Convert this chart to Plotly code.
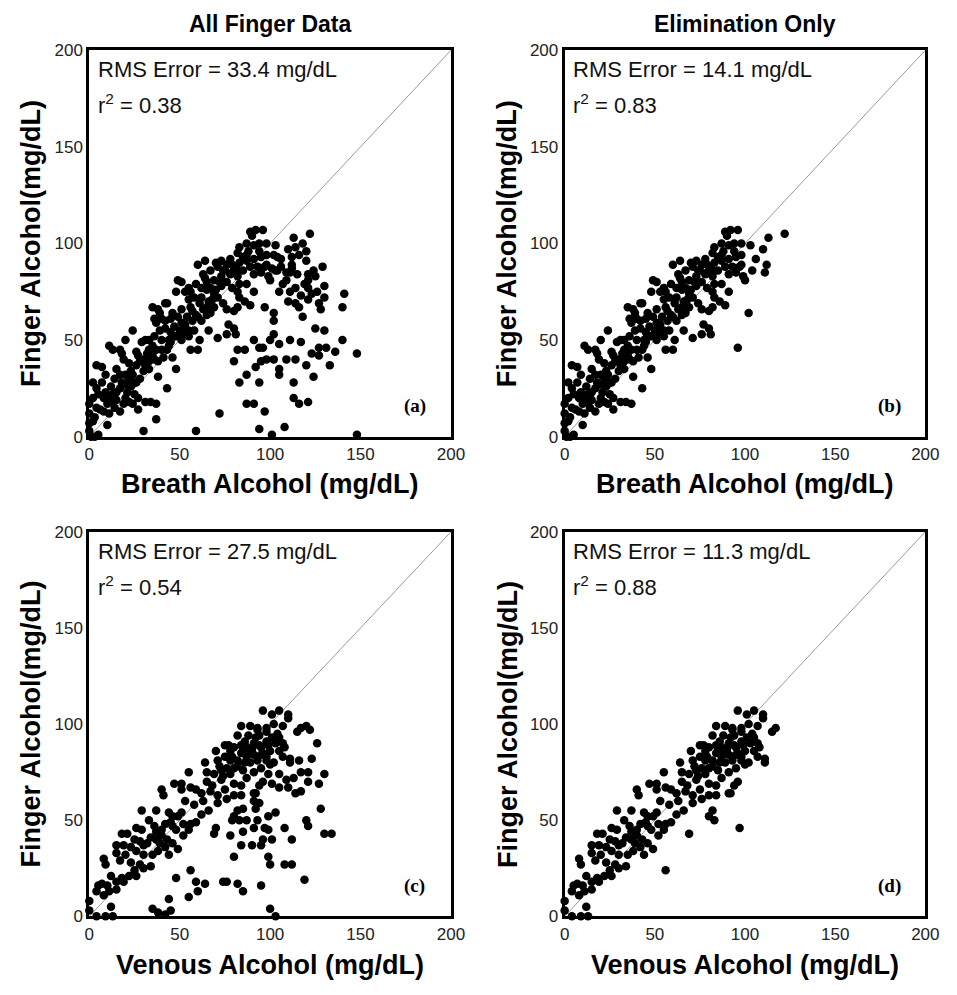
import plotly.graph_objects as go

# ---------------- data ----------------
# Breath vs finger, elimination phase (panels a and b)
breath_elim = [
    (89,106),(92,107),(96,107),(90,104),(87,100),(91,99),(94,100),(98,100),(103,99),(113,103),(122,105),
    (110,97),(106,92),(112,89),(111,85),(104,86),(99,83),(100,81),(97,88),(102,64),(96,46),
    (82,95),(98,94),(95,93),(91,92),(87,91),(83,90),(80,88),(76,89),(73,91),(71,88),(74,86),(78,84),
    (82,83),(85,86),(89,88),(93,88),(95,85),(98,89),(87,79),(91,75),(83,72),(86,70),(89,68),(82,67),
    (80,65),(76,66),(74,69),(71,72),(69,74),(67,77),(65,80),(64,82),(60,89),(64,91),(70,90),(67,86),
    (63,84),(59,79),(56,75),(55,71),(56,67),(59,63),(61,69),(65,67),(67,64),(69,67),(62,72),(51,80),
    (48,75),(49,81),(42,69),(39,64),(36,61),(37,59),(42,60),(45,61),(46,64),(49,62),(51,66),(54,62),
    (51,59),(47,57),(45,54),(42,56),(39,55),(36,52),(35,47),(33,45),(31,50),(30,40),(27,42),(24,55),
    (20,50),(26,44),(22,38),(19,40),(17,45),(13,45),(11,47),(15,35),(17,32),(20,32),(23,34),(26,37),
    (28,39),(31,37),(33,39),(35,42),(37,45),(40,45),(43,45),(41,41),(38,39),(46,41),(48,35),(38,31),
    (43,25),(26,28),(23,26),(21,23),(17,25),(15,23),(14,30),(9,32),(7,36),(4,37),(2,28),(2,20),(5,22),
    (8,20),(10,17),(12,18),(14,15),(17,13),(19,17),(22,18),(25,22),(27,14),(31,18),(34,18),(37,17),
    (0,17),(0,12),(2,8),(0,3),(5,1),(10,6),(0,7),(1,0),(3,0),(51,50),(56,45),(60,45),(61,50),(66,55),
    (71,51),(77,58),(80,56),(81,53),(76,53),(35,67),(38,66),(43,69),(40,61),(53,75),(55,77),(58,72),
    (62,77),(68,71),(73,78),(76,80),(79,77),(82,75),(83,79),(79,85),(73,83),(69,81),(65,76),(53,56),
    (55,55),(57,60),(55,52),(29,49),(33,50),(36,40),(45,49),(40,50),(32,43),(18,43),(24,32),(18,28),
    (12,26),(9,23),(7,28),(4,25),(4,15),(8,13),(11,12),(20,20),(24,17),(15,19),(27,20),(83,98),(87,94),
    (94,96),(82,86),(79,89),(91,84),
    (44,50),(47,52),(50,55),(53,58),(57,65),(60,62),(63,66),(66,70),(70,76),(72,80),(75,86),(78,92),
    (85,93),(88,96),(58,55),(62,60),(65,63),(30,34),(33,35),(28,30),(25,28),(22,30),(20,27),(13,22),
    (10,20),(6,14),(3,10),(44,47),(48,52),(52,53),
]
# Breath vs finger, absorption phase (only in panel a)
breath_abs = [
    (114,98),(118,100),(116,94),(120,91),(112,93),(120,96),(102,94),(104,93),(101,87),(103,86),(106,88),
    (109,85),(112,87),(115,84),(121,84),(125,83),(129,88),(130,78),(126,75),(123,74),(121,71),(117,73),
    (114,69),(110,70),(107,79),(111,75),(105,75),(109,81),(114,77),(119,79),(121,81),(121,77),(124,86),
    (102,60),(97,67),(82,45),(86,45),(80,39),(91,50),(94,46),(100,50),(102,53),(105,48),(111,50),
    (109,40),(105,35),(102,40),(98,40),(95,39),(92,36),(87,32),(83,28),(94,28),(105,32),(114,40),
    (113,28),(113,20),(116,17),(121,18),(124,31),(120,37),(127,42),(127,46),(131,46),(136,44),(133,37),
    (140,50),(130,55),(125,56),(128,66),(127,69),(130,72),(140,67),(141,74),(148,43),(87,17),(91,17),
    (97,13),(72,12),(94,4),(101,1),(108,5),(59,3),(30,3),(148,1),(123,43),(117,49),(118,62),(116,67),
    (37,9),
]
# Venous vs finger, elimination phase (panels c and d)
venous_elim = [
    (96,107),(101,105),(105,107),(110,105),(110,103),(107,99),(102,100),(98,98),(93,97),(115,96),(117,98),
    (105,93),(103,91),(108,88),(99,89),(95,88),(96,85),(98,83),(100,79),(111,82),(111,80),(96,70),(94,68),
    (92,64),(97,46),(84,99),(89,99),(93,98),(75,89),(77,89),(70,86),(80,88),(84,89),(87,88),(91,90),
    (94,89),(98,91),(101,93),(104,95),(107,90),(105,86),(100,86),(95,84),(91,84),(87,83),(82,81),(78,81),
    (75,83),(71,81),(76,77),(64,80),(55,75),(65,75),(69,74),(73,76),(80,77),(85,76),(87,72),(91,75),
    (95,77),(51,66),(40,66),(41,63),(47,69),(51,69),(56,67),(59,66),(62,64),(67,65),(71,63),(75,66),
    (76,61),(71,59),(66,55),(62,53),(59,49),(56,48),(55,45),(52,48),(49,52),(51,54),(46,52),(45,49),
    (44,54),(42,48),(46,47),(40,45),(37,44),(34,41),(37,40),(39,38),(43,40),(46,38),(42,36),(49,35),
    (44,32),(38,34),(34,26),(35,32),(29,55),(37,55),(33,50),(29,45),(26,46),(18,43),(21,43),(25,40),
    (28,39),(30,37),(32,38),(26,34),(23,36),(19,37),(15,37),(15,33),(20,32),(23,28),(28,27),(30,32),
    (30,25),(25,24),(22,21),(18,20),(15,18),(10,16),(7,17),(5,16),(4,13),(8,11),(11,13),(15,14),(19,18),
    (26,21),(12,21),(8,30),(9,27),(17,29),(78,86),(84,85),(89,80),(93,81),(98,81),(102,80),(98,96),
    (94,94),(88,94),(82,94),(103,90),(107,83),(84,63),(80,63),(80,69),(84,68),(73,71),(65,70),(82,55),
    (80,52),(83,50),(69,43),(56,24),(91,64),(12,5),(9,0),(13,0),(0,3),(0,8),(4,0),
    (72,78),(74,73),(78,74),(82,78),(86,80),(88,86),(90,87),(92,93),(86,91),(79,83),(68,68),(63,60),
    (58,58),(53,60),(48,45),(52,42),(36,47),(40,42),
]
# Venous vs finger, absorption phase (only in panel c)
venous_abs = [
    (120,99),(122,97),(126,90),(116,81),(123,82),(130,74),(127,69),(121,70),(121,75),(117,75),(117,65),
    (114,64),(113,72),(109,71),(110,67),(105,74),(105,67),(101,69),(99,74),(94,59),(92,56),(85,56),
    (91,60),(79,50),(87,50),(93,50),(99,52),(103,54),(108,46),(99,45),(91,46),(85,44),(78,42),(84,37),
    (90,37),(95,37),(96,40),(101,40),(112,40),(120,50),(121,47),(128,56),(130,43),(134,43),(99,31),
    (100,27),(108,27),(112,27),(119,19),(80,31),(95,16),(85,13),(82,17),(76,18),(74,18),(64,17),(59,18),
    (60,13),(55,10),(44,9),(45,3),(42,1),(38,2),(35,4),(100,4),(103,0),(48,20),(70,46),
]

panel_titles = ["All Finger Data", "Elimination Only"]
x_titles = ["Breath Alcohol (mg/dL)", "Breath Alcohol (mg/dL)",
            "Venous Alcohol (mg/dL)", "Venous Alcohol (mg/dL)"]
y_title = "Finger Alcohol(mg/dL)"
rms_text = ["33.4", "14.1", "27.5", "11.3"]
r2_text = ["0.38", "0.83", "0.54", "0.88"]
panel_labels = ["(a)", "(b)", "(c)", "(d)"]
tick_vals = [0, 50, 100, 150, 200]
tick_text = ["0", "50", "100", "150", "200"]

# ---------------- figure ----------------
W, H = 957, 995
fig = go.Figure()

def px_x(p):
    return p / W

def px_y(p):
    return 1 - p / H

xdoms = [(86, 455), (571, 939), (86, 455), (571, 939)]
ydoms = [(42, 436), (42, 436), (533, 925), (533, 925)]

panel_data = [
    breath_elim + breath_abs,
    breath_elim,
    venous_elim + venous_abs,
    venous_elim,
]

FONT = "Arial, Liberation Sans, sans-serif"

for i in range(4):
    sfx = "" if i == 0 else str(i + 1)
    xa, ya = "x" + sfx, "y" + sfx
    fig.add_trace(go.Scatter(x=[0, 200], y=[0, 200], mode="lines",
                             line=dict(color="#9a9a9a", width=1),
                             xaxis=xa, yaxis=ya, showlegend=False, hoverinfo="skip"))
    pts = panel_data[i]
    fig.add_trace(go.Scatter(x=[p[0] for p in pts], y=[p[1] for p in pts], mode="markers",
                             marker=dict(color="black", size=8.5, line=dict(width=0)),
                             cliponaxis=False, xaxis=xa, yaxis=ya, showlegend=False))
    axcommon = dict(range=[0, 200], showgrid=False, zeroline=False, showline=True,
                    linecolor="black", linewidth=3, mirror=True, ticks="",
                    tickvals=tick_vals, ticktext=tick_text,
                    tickfont=dict(family=FONT, size=17, color="#222"))
    fig.update_layout(**{
        "xaxis" + sfx: dict(domain=[px_x(xdoms[i][0]), px_x(xdoms[i][1])],
                            anchor=ya, **axcommon),
        "yaxis" + sfx: dict(domain=[px_y(ydoms[i][1]), px_y(ydoms[i][0])],
                            anchor=xa, **axcommon),
    })
    # in-plot texts
    fig.add_annotation(x=3.5, y=190, xref=xa, yref=ya, xanchor="left", yanchor="middle",
                       text="RMS Error = " + rms_text[i] + " mg/dL", showarrow=False,
                       font=dict(family=FONT, size=22, color="#111"))
    fig.add_annotation(x=3.5, y=172, xref=xa, yref=ya, xanchor="left", yanchor="middle",
                       text="r<sup>2</sup> = " + r2_text[i], showarrow=False,
                       font=dict(family=FONT, size=22, color="#111"))
    fig.add_annotation(x=180, y=16, xref=xa, yref=ya, xanchor="center", yanchor="middle",
                       text="<b>" + panel_labels[i] + "</b>", showarrow=False,
                       font=dict(family="Times New Roman, Liberation Serif, serif", size=19, color="black"))
    # axis titles
    xc = (xdoms[i][0] + xdoms[i][1]) / 2
    ty = 484 if i < 2 else 975
    fig.add_annotation(x=px_x(xc), y=px_y(ty), xref="paper", yref="paper",
                       xanchor="center", yanchor="middle", showarrow=False,
                       text="<b>" + x_titles[i] + "</b>",
                       font=dict(family=FONT, size=27, color="black"))
    yc = (ydoms[i][0] + ydoms[i][1]) / 2
    tx = 27 if i % 2 == 0 else 513
    fig.add_annotation(x=px_x(tx), y=px_y(yc), xref="paper", yref="paper",
                       xanchor="center", yanchor="middle", showarrow=False, textangle=-90,
                       text="<b>" + y_title + "</b>",
                       font=dict(family=FONT, size=27, color="black"))

for j, t in enumerate(panel_titles):
    xc = (xdoms[j][0] + xdoms[j][1]) / 2
    fig.add_annotation(x=px_x(xc), y=px_y(15), xref="paper", yref="paper",
                       xanchor="center", yanchor="middle", showarrow=False,
                       text="<b>" + t + "</b>",
                       font=dict(family=FONT, size=23, color="black"))

fig.update_layout(width=W, height=H, margin=dict(l=0, r=0, t=0, b=0),
                  paper_bgcolor="white", plot_bgcolor="white")

fig.write_html("out.html")
